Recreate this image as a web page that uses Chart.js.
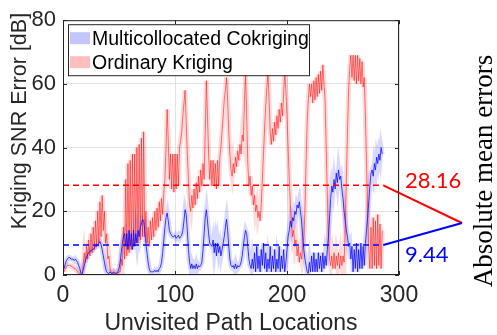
<!DOCTYPE html>
<html>
<head>
<meta charset="utf-8">
<script src="https://cdn.jsdelivr.net/npm/chart.js@4/dist/chart.umd.min.js"></script>
<style>
  html, body { margin: 0; padding: 0; background: #fff; }
  #wrap { width: 497px; height: 335px; }
</style>
</head>
<body>
<div id="wrap"><canvas id="chart"></canvas></div>
<script>
const seriesNames = ['Multicollocated Cokriging', 'Ordinary Kriging'];
const xTicks = [0, 100, 200, 300];
const yTicks = [0, 20, 40, 60, 80];
const meanErrors = [9.44, 28.16];      // cokriging, kriging
const meanLineEnd = 286;               // dashed mean lines stop here

// SNR error per unvisited location (1..285)
const cokriging = [
    2, 3.5, 4.5, 5, 5.5, 5.5, 5, 5, 5, 4.5, 5, 4.5, 4, 3, 2, 0.5, 0.3,
    1.5, 3, 4.5, 5.5, 6.5, 7, 7.5, 7.5, 8, 8, 8.5, 9, 9, 9.5, 10, 10.5,
    9.5, 8, 6, 4, 2, 1, 0.5,
    0.5, 1, 0.5, 0.5, 1, 0.5, 0.3, 0.5, 1, 2,
    4, 7, 10, 12, 13, 9, 13, 8, 14, 9, 13, 8, 14, 9, 13, 10, 14, 12, 15, 16, 17.5, 17,
    14, 10, 7, 4, 2, 1, 1, 1,
    1, 1.5, 1, 1.5, 1, 2, 2.5, 4,
    7, 11, 15, 18, 19.5,
    17, 14, 13, 12.5, 12,
    12, 12.5, 11.5, 12, 12.5, 11.5, 12, 12.5,
    14, 17, 20.5, 19,
    14, 8, 4,
    2, 3.5, 2, 3, 2, 3.5, 2, 3, 2.5, 3, 4,
    8, 13, 18, 20.5,
    17, 13, 10, 9.5, 9,
    11, 7, 10, 6, 10, 7, 9, 6, 8, 10,
    12, 15, 17.5, 14,
    9, 5, 3,
    2.5, 3, 2, 3.5, 2, 3, 2.5, 3, 4, 6,
    9, 12, 14, 13,
    9, 5, 3, 2,
    5, 2, 7, 1, 9, 2, 6, 1, 8, 3, 10, 2, 7, 1, 5, 2, 9, 1, 6, 2, 8, 1, 5, 2, 9, 1, 6, 2, 8, 1,
    4, 8, 12, 14, 17, 15, 18, 17, 20, 19, 22, 21, 23,
    20, 17, 12, 8, 5, 3, 1, 0.5,
    4, 1, 6, 1, 7, 1, 5, 1, 7, 2, 6, 1, 7, 2, 6, 3, 8,
    12, 18, 24, 28, 26, 30, 27, 32, 29, 33, 30,
    31, 27, 24, 20, 17, 14, 12, 9, 10, 5,
    9, 1, 8, 2, 10, 1, 8, 2, 10, 2, 9, 3, 10,
    14, 18, 23, 28, 32, 33,
    31, 35, 33, 37, 35, 38, 36, 40, 38
];

const kriging = [
    1, 2, 2.5, 3, 3, 3, 3, 2.5, 2.5, 2, 2, 1.5, 1, 0.5, 0.3, 0.2, 0.5,
    3, 7, 4, 9, 5, 11, 6, 13, 7, 15, 8, 17, 9, 20, 10, 23, 12, 25,
    14, 20, 10, 13, 5, 6, 2,
    1, 0.5, 0.3, 1, 0.5, 1, 0.5, 1,
    1, 5, 3, 15, 5, 30, 6, 35, 7, 36, 8, 38, 9, 38, 10, 40, 10, 41, 11, 43, 12, 45, 12, 20, 10,
    15, 9, 17, 11, 18, 12, 20, 14, 21, 15, 23, 17, 24, 19, 26,
    30, 40, 52, 42,
    30, 38, 27, 38, 26, 38, 27, 38, 28, 40,
    42, 45, 50, 54, 58, 48,
    38, 30, 22, 20,
    25, 21, 27, 22, 29, 24, 31, 26, 33, 28, 35, 30,
    45, 61, 50,
    38, 30, 36, 28, 36, 28, 35, 27, 36, 28, 37,
    40, 45, 50, 55, 58, 62,
    55, 45, 38, 33, 31, 35,
    32, 37, 34, 39, 36, 41, 38, 44, 42,
    55, 63, 50,
    35, 28, 31, 25, 28, 22, 25, 20, 22, 18, 20, 17,
    22, 30, 38, 46, 53, 59, 63, 55,
    45, 41, 46, 42, 48, 44, 50, 46, 52, 48, 54, 50, 57,
    64, 58,
    50, 40, 30, 22, 16, 12, 14, 9, 11, 6, 9, 4,
    7, 5, 9, 12, 20, 35, 48,
    55, 60, 56,
    60, 54, 61, 55, 62, 56, 63, 57, 64, 58, 66, 60,
    55, 40, 25, 12, 5, 3,
    6, 2, 7, 2, 6, 3, 7, 2, 6, 3, 6, 4,
    15, 30, 45, 58, 65, 69, 62,
    69, 61, 69, 60, 69, 61, 68, 60, 67, 59, 62,
    50, 35, 20, 8, 2,
    15, 2, 18, 3, 17, 2, 19, 3, 16, 2, 14
];

const toPoints = arr => arr.map((v, i) => ({x: i + 1, y: v}));

const BLUE = 'rgba(0,0,255,0.75)';
const RED = 'rgba(255,0,0,0.6)';
const INK = '#262626';
const SANS = '"Liberation Sans", Arial';

const frame = {
    id: 'frame',
    afterDatasetsDraw(chart) {
        const {ctx, chartArea: a, scales: {x, y}} = chart;
        ctx.save();
        ctx.strokeStyle = INK;
        ctx.lineWidth = 1;
        ctx.strokeRect(a.left + 0.5, a.top + 0.5, a.right - a.left - 1, a.bottom - a.top - 1);
        // inward tick marks, matlab style
        ctx.beginPath();
        xTicks.forEach(v => {
            const px = Math.round(x.getPixelForValue(v)) + 0.5;
            ctx.moveTo(px, a.bottom); ctx.lineTo(px, a.bottom - 4);
            ctx.moveTo(px, a.top); ctx.lineTo(px, a.top + 4);
        });
        yTicks.forEach(v => {
            const py = Math.round(y.getPixelForValue(v)) + 0.5;
            ctx.moveTo(a.left, py); ctx.lineTo(a.left + 4, py);
            ctx.moveTo(a.right, py); ctx.lineTo(a.right - 4, py);
        });
        ctx.stroke();

        // connectors from the mean lines to the side label
        const apex = {x: 462, y: 223};
        const ex = x.getPixelForValue(meanLineEnd);
        ctx.lineWidth = 2;
        [[meanErrors[1], 'rgb(255,0,0)'], [meanErrors[0], 'rgb(0,0,255)']].forEach(([m, c]) => {
            ctx.strokeStyle = c;
            ctx.beginPath();
            ctx.moveTo(ex, y.getPixelForValue(m));
            ctx.lineTo(apex.x, apex.y);
            ctx.stroke();
        });

        ctx.font = '22px Lato';
        ctx.textAlign = 'left';
        ctx.textBaseline = 'alphabetic';
        ctx.fillStyle = 'rgb(255,0,0)';
        ctx.fillText(meanErrors[1].toFixed(2), 405, 188);
        ctx.fillStyle = 'rgb(0,0,255)';
        ctx.fillText(meanErrors[0].toFixed(2), 405, 262);
        ctx.restore();
    },
    afterDraw(chart) {
        const {ctx, chartArea: a} = chart;
        ctx.save();
        // legend box
        const lx = a.left + 5, ly = a.top + 4;
        ctx.fillStyle = '#fff';
        ctx.fillRect(lx, ly, 241, 51);
        ctx.strokeStyle = INK;
        ctx.lineWidth = 1;
        ctx.strokeRect(lx + 0.5, ly + 0.5, 241, 51);
        const swatches = ['rgb(196,196,255)', 'rgb(255,190,190)'];
        ctx.font = '19.5px ' + SANS;
        ctx.textBaseline = 'alphabetic';
        ctx.textAlign = 'left';
        seriesNames.forEach((name, i) => {
            ctx.fillStyle = swatches[i];
            ctx.fillRect(lx + 2, ly + 8 + i * 24, 20, 12);
            ctx.fillStyle = '#000';
            ctx.fillText(name, lx + 24, ly + 21 + i * 24);
        });

        // axis titles
        ctx.fillStyle = INK;
        ctx.font = '23px ' + SANS;
        ctx.textAlign = 'center';
        ctx.textBaseline = 'middle';
        ctx.fillText('Unvisited Path Locations', (a.left + a.right) / 2, 324);
        ctx.save();
        ctx.font = '21.5px ' + SANS;
        ctx.translate(20, 121);
        ctx.rotate(-Math.PI / 2);
        ctx.fillText('Kriging SNR Error [dB]', 0, 0);
        ctx.restore();

        ctx.fillStyle = '#000';
        ctx.font = '27px "Liberation Serif", "Times New Roman", serif';
        ctx.translate(485, 171);
        ctx.rotate(-Math.PI / 2);
        ctx.fillText('Absolute mean errors', 0, 0);
        ctx.restore();
    }
};

const meanLine = (m, color) => ({
    data: [{x: 0, y: m}, {x: meanLineEnd, y: m}],
    borderColor: color,
    borderWidth: 1.5,
    borderDash: [6, 4],
    pointRadius: 0,
    order: -1
});

new Chart(document.getElementById('chart'), {
    type: 'line',
    data: {
        datasets: [
            {label: seriesNames[0], data: toPoints(cokriging), borderColor: BLUE, borderWidth: 1, pointRadius: 0, order: 0},
            {label: seriesNames[1], data: toPoints(kriging), borderColor: RED, borderWidth: 0.9, pointRadius: 0, order: 1},
            {data: toPoints(cokriging), borderColor: 'rgba(0,0,255,0.15)', borderWidth: 5, pointRadius: 0, order: 2},
            {data: toPoints(kriging), borderColor: 'rgba(255,0,0,0.14)', borderWidth: 5, pointRadius: 0, order: 3},
            meanLine(meanErrors[1], 'rgb(255,0,0)'),
            meanLine(meanErrors[0], 'rgb(0,0,255)')
        ]
    },
    options: {
        responsive: true,
        maintainAspectRatio: false,
        animation: false,
        layout: {padding: {top: 15, right: 98, left: 0, bottom: 0}},
        plugins: {legend: {display: false}, tooltip: {enabled: false}},
        scales: {
            x: {
                type: 'linear', min: 0, max: 300,
                afterBuildTicks: s => { s.ticks = xTicks.map(v => ({value: v})); },
                afterFit: s => { s.height = 60; },
                border: {display: false},
                grid: {color: '#e2e2e2', drawTicks: false},
                ticks: {color: INK, font: {size: 23, family: SANS}, padding: 7, maxRotation: 0}
            },
            y: {
                min: 0, max: 80,
                afterBuildTicks: s => { s.ticks = yTicks.map(v => ({value: v})); },
                afterFit: s => { s.width = 63; },
                border: {display: false},
                grid: {color: '#e2e2e2', drawTicks: false},
                ticks: {color: INK, font: {size: 22, family: SANS}, padding: 7}
            }
        }
    },
    plugins: [frame]
});
</script>
</body>
</html>
